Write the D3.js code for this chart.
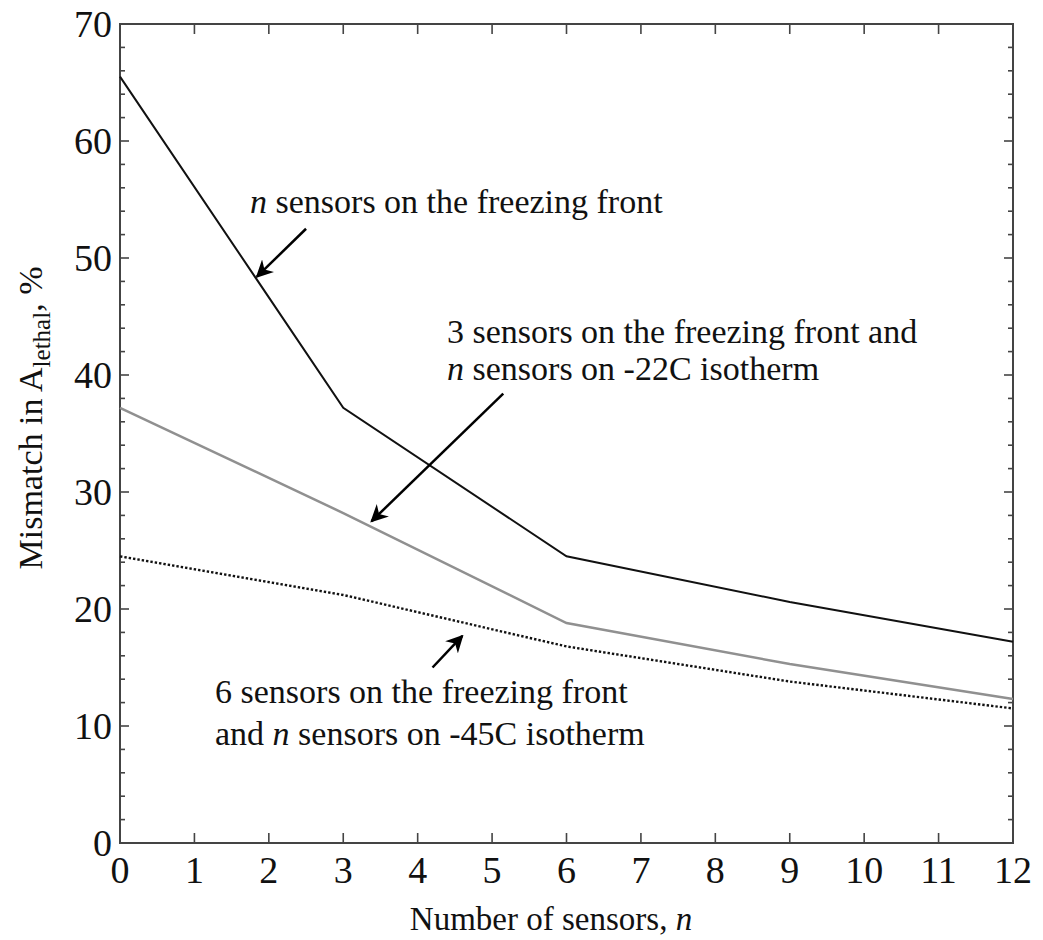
<!DOCTYPE html>
<html>
<head>
<meta charset="utf-8">
<script src="https://cdn.jsdelivr.net/npm/d3@7"></script>
<style>
  body { margin: 0; background: #fff; }
  text { font-family: "Liberation Serif", "Times New Roman", serif; fill: #111; }
</style>
</head>
<body>
<svg id="chart"></svg>
<script>
var w = 1043;
var h = 940;
var margin = {left: 120, right: 30, top: 24, bottom: 97};

// data
var sensors = [0, 3, 6, 9, 12];
var freezingFront = [65.5, 37.2, 24.5, 20.6, 17.2];
var front3Iso22 = [37.2, 28.2, 18.8, 15.3, 12.3];
var front6Iso45 = [24.5, 21.2, 16.8, 13.8, 11.5];
var xTicks = d3.range(0, 13);
var yTicks = d3.range(0, 71, 10);
var yMinor = d3.range(0, 71, 2);

var svg = d3.select("#chart").attr("width", w).attr("height", h);

var x = d3.scaleLinear().domain([0, 12]).range([margin.left, w - margin.right]);
var y = d3.scaleLinear().domain([0, 70]).range([h - margin.bottom, margin.top]);

var defs = svg.append("defs");
defs.append("marker")
    .attr("id", "arrow")
    .attr("viewBox", "0 0 10 10")
    .attr("refX", 9).attr("refY", 5)
    .attr("markerWidth", 7).attr("markerHeight", 7)
    .attr("markerUnits", "strokeWidth")
    .attr("orient", "auto")
  .append("path")
    .attr("d", "M0,0 L10,5 L0,10 L3,5 z")
    .attr("fill", "#000");

// ticks on all four sides, pointing inward
var axisColor = "#444";
var tickG = svg.append("g").attr("stroke", axisColor).attr("stroke-width", 1.6);
xTicks.forEach(function(t){
    tickG.append("line").attr("x1", x(t)).attr("x2", x(t)).attr("y1", y(0)).attr("y2", y(0) - 10);
    tickG.append("line").attr("x1", x(t)).attr("x2", x(t)).attr("y1", y(70)).attr("y2", y(70) + 10);
});
yMinor.forEach(function(t){
    var len = (t % 10 == 0) ? 9 : 5;
    tickG.append("line").attr("x1", x(0)).attr("x2", x(0) + len).attr("y1", y(t)).attr("y2", y(t));
    tickG.append("line").attr("x1", x(12)).attr("x2", x(12) - len).attr("y1", y(t)).attr("y2", y(t));
});

svg.append("rect")
    .attr("x", x(0)).attr("y", y(70))
    .attr("width", x(12) - x(0)).attr("height", y(0) - y(70))
    .attr("fill", "none").attr("stroke", axisColor).attr("stroke-width", 2);

// tick labels
svg.selectAll(".xl").data(xTicks).enter().append("text")
    .attr("x", function(d){ return x(d); })
    .attr("y", y(0) + 40)
    .attr("text-anchor", "middle")
    .style("font-size", "38px")
    .text(function(d){ return d; });

svg.selectAll(".yl").data(yTicks).enter().append("text")
    .attr("x", x(0) - 8)
    .attr("y", function(d){ return y(d) + 13; })
    .attr("text-anchor", "end")
    .style("font-size", "38px")
    .text(function(d){ return d; });

// axis titles
var xt = svg.append("text")
    .attr("x", 551)
    .attr("y", 930)
    .attr("text-anchor", "middle")
    .style("font-size", "33px");
xt.append("tspan").text("Number of sensors, ");
xt.append("tspan").style("font-style", "italic").text("n");

var yt = svg.append("text")
    .attr("transform", "translate(42,418) rotate(-90)")
    .attr("text-anchor", "middle")
    .style("font-size", "34px");
yt.append("tspan").text("Mismatch in A");
yt.append("tspan").attr("dy", 8).style("font-size", "25px").text("lethal");
yt.append("tspan").attr("dy", -8).text(", %");

// lines
var line = d3.line()
    .x(function(d, i){ return x(sensors[i]); })
    .y(function(d){ return y(d); });

svg.append("path").datum(front6Iso45).attr("d", line)
    .attr("fill", "none").attr("stroke", "#111").attr("stroke-width", 2.4)
    .attr("stroke-dasharray", "2.4,2");
svg.append("path").datum(front3Iso22).attr("d", line)
    .attr("fill", "none").attr("stroke", "#909090").attr("stroke-width", 2.5);
svg.append("path").datum(freezingFront).attr("d", line)
    .attr("fill", "none").attr("stroke", "#111").attr("stroke-width", 2);

// annotations
function label(xp, yp, parts){
    var t = svg.append("text").attr("x", xp).attr("y", yp).style("font-size", "34px");
    parts.forEach(function(p){
        t.append("tspan").style("font-style", p[1] ? "italic" : "normal").text(p[0]);
    });
}
function arrow(x1, y1, x2, y2){
    svg.append("line")
        .attr("x1", x(x1)).attr("y1", y(y1))
        .attr("x2", x(x2)).attr("y2", y(y2))
        .attr("stroke", "#000").attr("stroke-width", 2.5)
        .attr("marker-end", "url(#arrow)");
}

label(250, 213, [["n", true], [" sensors on the freezing front", false]]);
arrow(2.5, 52.5, 1.84, 48.4);

label(447, 343, [["3 sensors on the freezing front and", false]]);
label(447, 380, [["n", true], [" sensors on -22C isotherm", false]]);
arrow(5.15, 38.4, 3.38, 27.5);

label(215, 703, [["6 sensors on the freezing front", false]]);
label(215, 745, [["and ", false], ["n", true], [" sensors on -45C isotherm", false]]);
arrow(4.2, 15.0, 4.6, 17.7);
</script>
</body>
</html>
